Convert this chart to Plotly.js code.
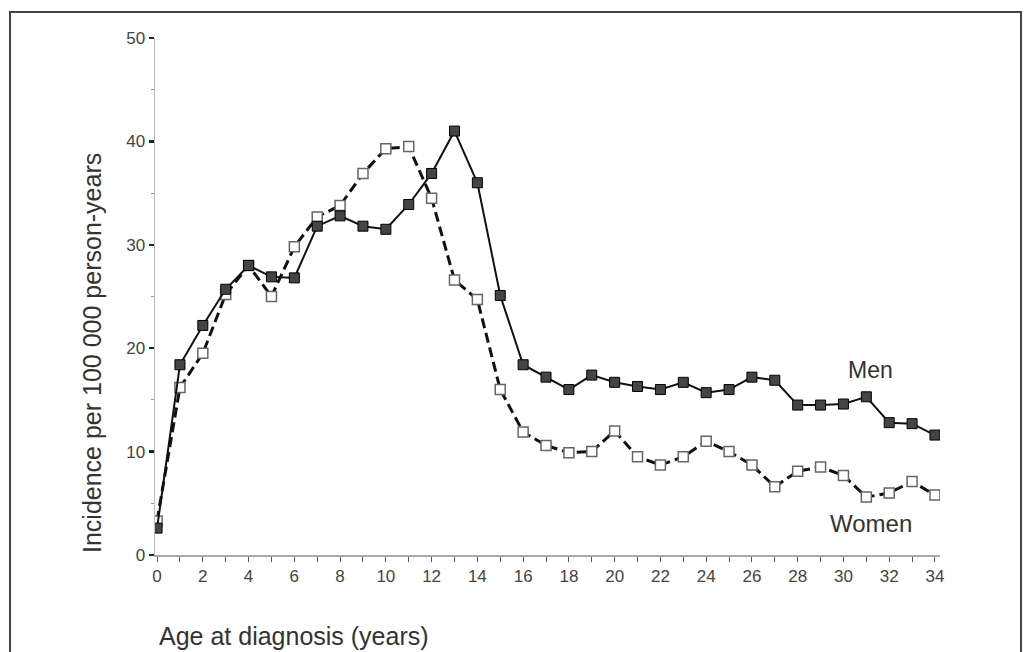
<!DOCTYPE html>
<html>
<head>
<meta charset="utf-8">
<script src="https://cdn.plot.ly/plotly-3.0.1.min.js"></script>
<style>
  html, body { margin: 0; padding: 0; background: #fff; }
  #chart { width: 1027px; height: 652px; }
</style>
</head>
<body>
<div id="chart"></div>
<script>
// Age at diagnosis (years)
const ages = [0,1,2,3,4,5,6,7,8,9,10,11,12,13,14,15,16,17,18,19,20,21,22,23,24,25,26,27,28,29,30,31,32,33,34];
// Incidence per 100 000 person-years
const men = [2.6,18.4,22.2,25.7,28.0,26.9,26.8,31.8,32.8,31.8,31.5,33.9,36.9,41.0,36.0,25.1,18.4,17.2,16.0,17.4,16.7,16.3,16.0,16.7,15.7,16.0,17.2,16.9,14.5,14.5,14.6,15.3,12.8,12.7,11.6];
const women = [3.3,16.2,19.5,25.2,28.0,25.0,29.8,32.7,33.8,36.9,39.3,39.5,34.5,26.6,24.7,16.0,11.9,10.6,9.9,10.0,12.0,9.5,8.7,9.5,11.0,10.0,8.7,6.6,8.1,8.5,7.7,5.6,6.0,7.1,5.8];
const seriesNames = ["Men", "Women"];
const xTitle = "Age at diagnosis (years)";
const yTitle = "Incidence per 100 000 person-years";

const W = 1027, H = 652;
const L = 155, R = 87, T = 38, B = 97;
const pw = W - L - R, ph = H - T - B;
const px = v => (v - L) / pw;          // pixel x -> paper x
const py = v => (H - B - v) / ph;      // pixel y -> paper y

const font = "Liberation Sans, Arial, Helvetica, sans-serif";

const traces = [
  {
    x: ages, y: women, name: seriesNames[1], type: "scatter", mode: "lines+markers",
    line: { color: "#111", width: 3, dash: "10px,5px" },
    marker: { symbol: "square", size: 10, color: "#fff", line: { color: "#666", width: 1.5 } }
  },
  {
    x: ages, y: men, name: seriesNames[0], type: "scatter", mode: "lines+markers",
    line: { color: "#111", width: 2 },
    marker: { symbol: "square", size: 10, color: "#444", line: { color: "#000", width: 1 } }
  }
];

const layout = {
  width: W, height: H,
  margin: { l: L, r: R, t: T, b: B, pad: 0 },
  paper_bgcolor: "#fff", plot_bgcolor: "#fff",
  showlegend: false,
  font: { family: font, color: "#333" },
  xaxis: {
    range: [-0.09, 34.22], showgrid: false, zeroline: false,
    showline: true, linecolor: "#aaa", linewidth: 1.5,
    tickmode: "linear", tick0: 0, dtick: 2,
    ticks: "outside", ticklen: 5, tickwidth: 1, tickcolor: "#555",
    minor: { dtick: 1, tick0: 0, ticks: "outside", ticklen: 5, tickwidth: 1, tickcolor: "#555" },
    tickfont: { size: 17, color: "#444", family: font }
  },
  yaxis: {
    range: [0, 50], showgrid: false, zeroline: false,
    showline: true, linecolor: "#bbb", linewidth: 1.5,
    tickmode: "linear", tick0: 0, dtick: 10,
    ticks: "outside", ticklen: 5, tickwidth: 2.5, tickcolor: "#222",
    minor: { dtick: 5, tick0: 0, ticks: "outside", ticklen: 3, tickwidth: 1, tickcolor: "#999" },
    tickfont: { size: 17, color: "#444", family: font }
  },
  annotations: [
    { text: yTitle, xref: "paper", yref: "paper", x: px(92), y: py(353),
      xanchor: "center", yanchor: "middle", textangle: -90, showarrow: false,
      font: { size: 25, color: "#333", family: font } },
    { text: xTitle, xref: "paper", yref: "paper", x: px(157), y: py(636),
      xanchor: "left", yanchor: "middle", showarrow: false,
      font: { size: 25, color: "#333", family: font } },
    { text: seriesNames[0], xref: "x", yref: "y", x: 31.2, y: 17.9,
      xanchor: "center", yanchor: "middle", showarrow: false,
      font: { size: 23, color: "#333", family: font } },
    { text: seriesNames[1], xref: "x", yref: "y", x: 31.2, y: 3.07,
      xanchor: "center", yanchor: "middle", showarrow: false,
      font: { size: 24, color: "#333", family: font } }
  ],
  shapes: [
    { type: "rect", xref: "paper", yref: "paper",
      x0: px(10), x1: px(1021), y0: py(720), y1: py(12),
      line: { color: "#444", width: 2 }, fillcolor: "rgba(0,0,0,0)", layer: "below" }
  ]
};

Plotly.newPlot("chart", traces, layout, { displayModeBar: false, staticPlot: true });
</script>
</body>
</html>
